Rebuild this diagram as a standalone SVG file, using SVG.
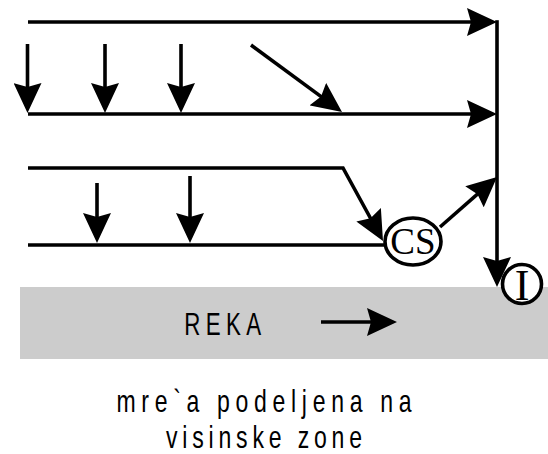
<svg xmlns="http://www.w3.org/2000/svg" width="548" height="454" viewBox="0 0 548 454">
<style>
.ln{fill:none;stroke:#000;stroke-width:3.6;stroke-linecap:butt;stroke-linejoin:miter}
.ar{marker-end:url(#ah)}
.nd{fill:#fff;stroke:#000;stroke-width:3.6}
.serif{font-family:"Liberation Serif","Times New Roman",serif;fill:#000}
.sans{font-family:"Liberation Sans",Arial,sans-serif;fill:#000}
</style>
<defs>
<marker id="ah" markerUnits="userSpaceOnUse" viewBox="0 0 30 28" refX="10" refY="14" markerWidth="30" markerHeight="28" orient="auto">
<path d="M0,0 L30,14 L0,28 L4,14 Z" fill="#000"/>
</marker>
</defs>
<g id="river">
<rect x="20" y="287" width="528" height="72" fill="#cccccc"/>
<text class="sans" transform="scale(0.72,1)" x="313" y="335" font-size="31" letter-spacing="7.5" text-anchor="middle">REKA</text>
</g>
<g id="connectors">
<path class="ln ar" d="M28,22 H477"/>
<path class="ln ar" d="M28,114 H477"/>
<path class="ln ar" d="M497,20.2 V267"/>
<path class="ln ar" d="M27.5,44 V93"/>
<path class="ln ar" d="M105,44 V93"/>
<path class="ln ar" d="M181,44 V93"/>
<path class="ln ar" d="M251,45 L325.9,100.1"/>
<path class="ln ar" d="M28,168 H343 L373.4,223.5"/>
<path class="ln" d="M28,245 H386"/>
<path class="ln ar" d="M97,183 V223"/>
<path class="ln ar" d="M190,176 V223"/>
<path class="ln ar" d="M440,227 L482,190.2"/>
<path class="ln ar" d="M321,322 H377"/>
</g>
<g id="CS">
<ellipse class="nd" cx="413" cy="241.5" rx="28" ry="23.5"/>
<text class="serif" x="413" y="253.5" font-size="37" text-anchor="middle">CS</text>
</g>
<g id="I">
<circle class="nd" cx="522" cy="284" r="19.5"/>
<text class="serif" x="522" y="300" font-size="44" text-anchor="middle">I</text>
</g>
<g id="caption">
<text class="sans" transform="scale(0.72,1)" x="370.6" y="412" font-size="32" letter-spacing="7.9" text-anchor="middle">mre`a podeljena na</text>
<text class="sans" transform="scale(0.72,1)" x="370" y="448" font-size="32" letter-spacing="6.7" text-anchor="middle">visinske zone</text>
</g>
</svg>
